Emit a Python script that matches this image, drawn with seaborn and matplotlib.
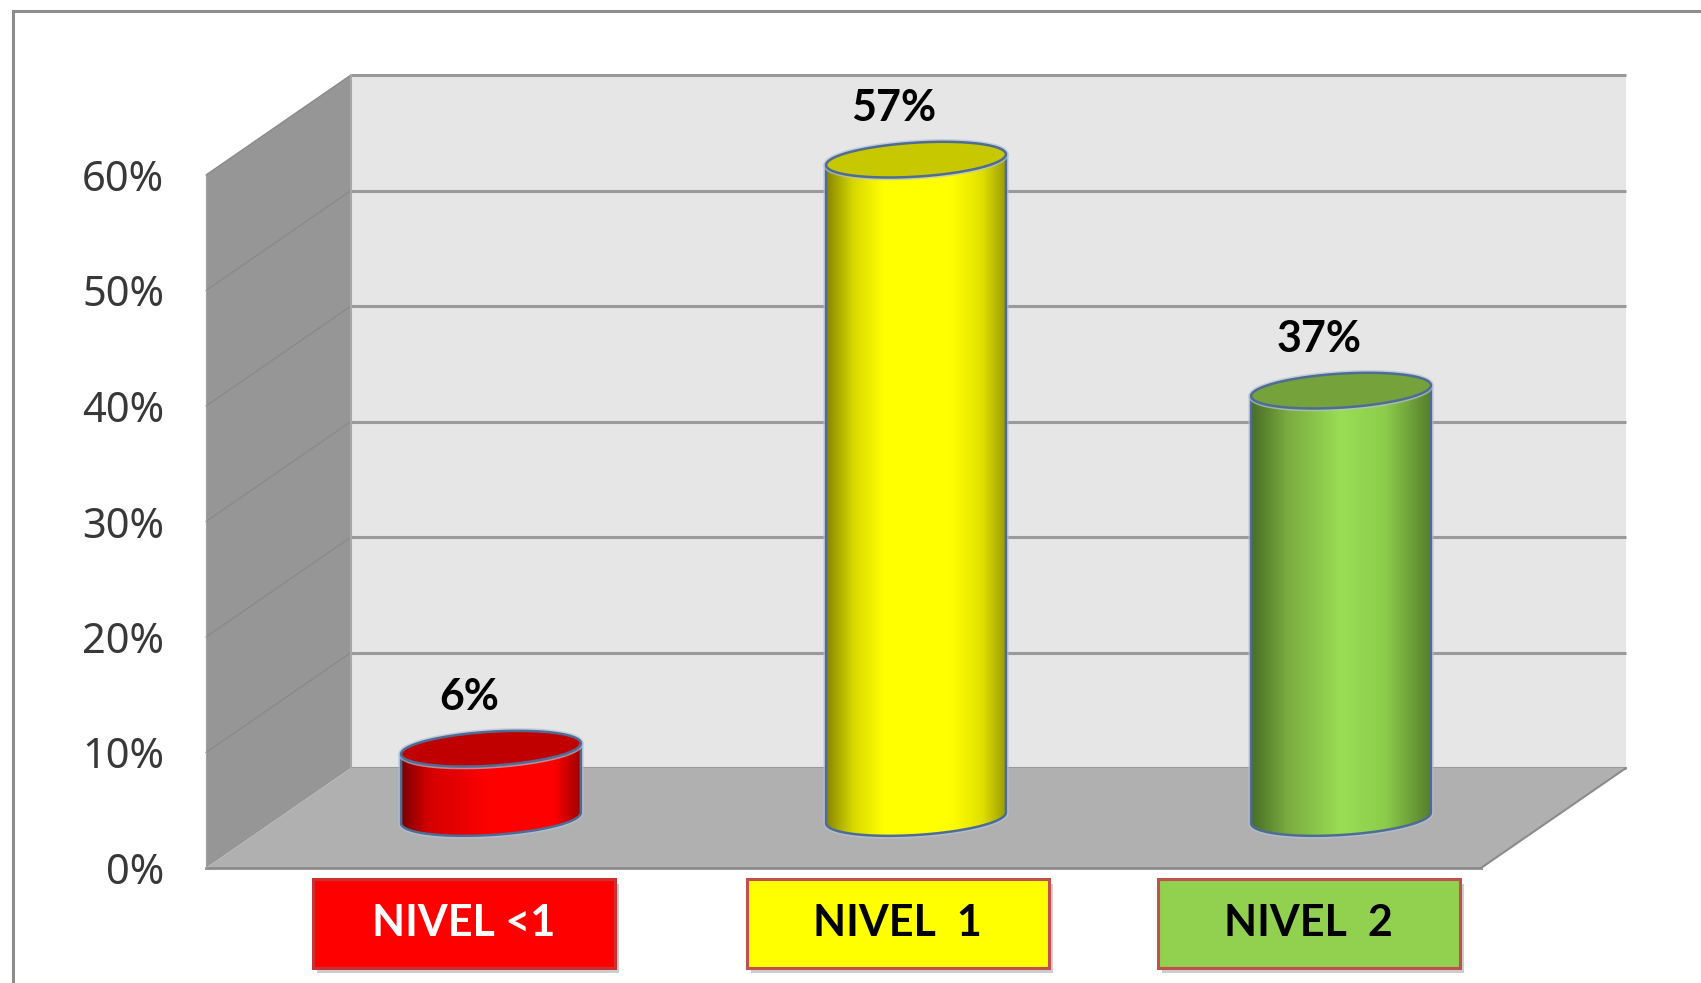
import numpy as np
import matplotlib
matplotlib.use('Agg')
import matplotlib.pyplot as plt
import seaborn as sns
from matplotlib.patches import Polygon, Rectangle
from matplotlib.colors import LinearSegmentedColormap

# datos
categories = ['NIVEL <1', 'NIVEL  1', 'NIVEL  2']
values = [6, 57, 37]
value_labels = ['6%', '57%', '37%']
yticks = [0, 10, 20, 30, 40, 50, 60]
ytick_labels = ['0%', '10%', '20%', '30%', '40%', '50%', '60%']

# colores
bar_colors = ['#ff0000', '#ffff00', '#92d050']
cap_colors = ['#c00000', '#c8c800', '#76a23c']
box_edges = ['#c83232', '#c0504d', '#c0504d']
text_colors = ['white', 'black', 'black']
body_stops = [
    [(0, '#780000'), (0.15, '#d40000'), (0.5, '#ff0000'), (0.85, '#ff0000'), (1, '#a00000')],
    [(0, '#868600'), (0.15, '#d8d800'), (0.32, '#ffff00'), (0.7, '#ffff00'), (0.87, '#e0e000'), (1, '#9c9c00')],
    [(0, '#486e26'), (0.2, '#7aaa40'), (0.5, '#9ade55'), (0.75, '#8ccc4c'), (1, '#567f2c')],
]
edge_blue = '#4f6c94'

sns.set_style('white')
plt.rcParams['font.family'] = ['Noto Sans', 'DejaVu Sans']

# escala de pixeles -> datos
W, H = 1701, 983
ppx = 425.0      # px por categoria
ppy = 11.55      # px por 1%
x0_px, y0_px = 206, 115
DX = 145 / ppx   # profundidad
DY = 100 / ppy
tilt = 0.06 * ppx / ppy
B = 17 / ppy
box_shift = [45 / ppx, 54 / ppx, 40 / ppx]
box_w = 302 / ppx

fig = plt.figure(figsize=(W / 100, H / 100), dpi=100)
ax = fig.add_axes([0, 0, 1, 1])

sns.barplot(x=categories, y=values, hue=categories, palette=bar_colors,
            width=0.423, legend=False, ax=ax, zorder=3)
bars = sorted(ax.patches, key=lambda p: p.get_x())

# paredes y piso
back = Polygon([(-0.5 + DX, DY), (2.5 + DX, DY), (2.5 + DX, 60 + DY), (-0.5 + DX, 60 + DY)],
               facecolor='#e6e6e6', edgecolor='none', zorder=0)
left = Polygon([(-0.5, 0), (-0.5, 60), (-0.5 + DX, 60 + DY), (-0.5 + DX, DY)],
               facecolor='#969696', edgecolor='none', zorder=0)
floor = Polygon([(-0.5, 0), (2.5, 0), (2.5 + DX, DY), (-0.5 + DX, DY)],
                facecolor='#b0b0b0', edgecolor='none', zorder=1)
for p in (back, left, floor):
    ax.add_patch(p)
ax.hlines([v + DY for v in yticks], -0.5 + DX, 2.5 + DX, color='#9a9a9a', lw=2.2, zorder=0.5)
for v in yticks[1:]:
    ax.plot([-0.5, -0.5 + DX], [v, v + DY], color='#8a8a8a', lw=1, zorder=0.5)
ax.plot([2.5, 2.5 + DX], [0, DY], color='#8c8c8c', lw=1.5, zorder=1.5)
ax.plot([-0.5 + DX, -0.5 + DX], [DY, 60 + DY], color='#a8a8a8', lw=1.5, zorder=0.6)

# cilindros
t_low = np.linspace(np.pi, 2 * np.pi, 80)
t_all = np.linspace(0, 2 * np.pi, 160)
for i, p in enumerate(bars):
    w = p.get_width()
    h = p.get_height()
    a = w / 2
    cx = p.get_x() + DX / 2 + a
    base = DY / 2
    top = base + h
    p.set_visible(False)

    xs = cx + a * np.cos(t_low)
    bot_y = base + B * np.sin(t_low) + tilt * a * np.cos(t_low)
    top_y = top + B * np.sin(t_low) + tilt * a * np.cos(t_low)
    body = Polygon(np.column_stack([np.r_[xs, xs[::-1]], np.r_[bot_y, top_y[::-1]]]),
                   facecolor='none', edgecolor='none', zorder=3)
    ax.add_patch(body)
    cmap = LinearSegmentedColormap.from_list('c%d' % i, body_stops[i])
    grad = cmap(np.linspace(0, 1, 256))[:, :3]
    im = ax.imshow(grad[np.newaxis, :, :], extent=[cx - a, cx + a, base - 3 * B, top + 3 * B],
                   aspect='auto', interpolation='bicubic', zorder=3)
    im.set_clip_path(body)

    outline_x = np.r_[cx - a, xs, cx + a]
    outline_y = np.r_[top - tilt * a, bot_y, top + tilt * a]
    ax.plot(outline_x, outline_y, color='#b4c2d6', lw=4, alpha=0.7, zorder=2.9,
            solid_joinstyle='round')
    ax.plot(outline_x, outline_y, color=edge_blue, lw=1.8, zorder=3.5)

    cap_xy = np.column_stack([cx + a * np.cos(t_all),
                              top + B * np.sin(t_all) + tilt * a * np.cos(t_all)])
    halo = Polygon(cap_xy, facecolor='none', edgecolor='#b4c2d6', lw=4, alpha=0.7, zorder=3.8)
    ax.add_patch(halo)
    cap = Polygon(cap_xy, facecolor=cap_colors[i], edgecolor=edge_blue, lw=1.8, zorder=4)
    ax.add_patch(cap)

    ax.text(cx - 22 / ppx, top + 4.5, value_labels[i], ha='center', va='center',
            fontsize=31, fontweight='bold', color='black',
            family=['Lato', 'DejaVu Sans'], zorder=5)

    # caja de etiqueta
    bx = i + box_shift[i] - box_w / 2
    shadow = Rectangle((bx + 4 / ppx, -8.66 - 5 / ppy), box_w, 7.71,
                       facecolor='#b8b8b8', edgecolor='none', alpha=0.7, zorder=2)
    ax.add_patch(shadow)
    box = Rectangle((bx, -8.66), box_w, 7.71, facecolor=bar_colors[i],
                    edgecolor=box_edges[i], lw=2.2, zorder=3)
    ax.add_patch(box)
    ax.text(bx + box_w / 2, -4.8, categories[i], ha='center', va='center', fontsize=31,
            fontweight='bold', color=text_colors[i], family=['Lato', 'DejaVu Sans'], zorder=4)

# ejes
ax.spines['right'].set_visible(False)
ax.spines['top'].set_visible(False)
ax.spines['left'].set_position(('data', -0.5))
ax.spines['left'].set_bounds(0, 60)
ax.spines['left'].set_color('#a0a0a0')
ax.spines['bottom'].set_position(('data', 0))
ax.spines['bottom'].set_bounds(-0.5, 2.5)
ax.spines['bottom'].set_color('#8c8c8c')
ax.spines['bottom'].set_linewidth(2)
ax.spines['bottom'].set_zorder(2)
ax.set_yticks(yticks, ytick_labels)
ax.set_xticks([-0.5, 0.5, 1.5, 2.5], ['', '', '', ''])
ax.tick_params(axis='y', direction='out', length=9, width=1.5, color='#8a8a8a',
               labelsize=30, labelcolor='#383838', pad=21)
ax.tick_params(axis='x', direction='out', length=8, width=1.5, color='#8a8a8a')
ax.set_xlabel('')
ax.set_ylabel('')

ax.set_xlim(-0.5 - x0_px / ppx, -0.5 + (W - x0_px) / ppx)
ax.set_ylim(-y0_px / ppy, (H - y0_px) / ppy)

# marco exterior
frame = Rectangle((13 / W, -0.1), 2, (H - 11) / H + 0.1, transform=ax.transAxes,
                  fill=False, edgecolor='#8c8c8c', lw=2.2, clip_on=False, zorder=10)
ax.add_patch(frame)

fig.savefig('out.png', dpi=100)
